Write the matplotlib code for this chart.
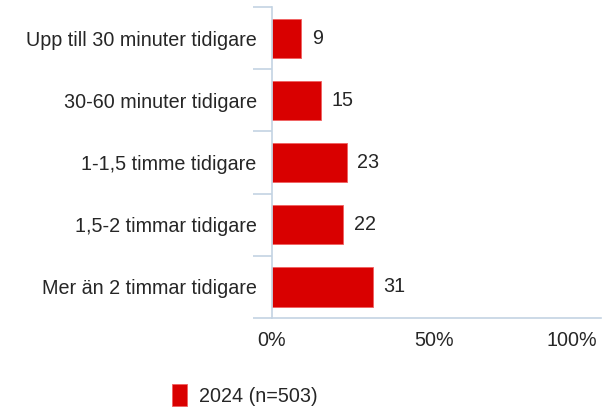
import numpy as np
import matplotlib
matplotlib.use("Agg")
from matplotlib import pyplot as plt
from matplotlib.patches import Patch

plt.rcParams['font.family'] = ['Liberation Sans', 'DejaVu Sans']

categories = [
    "Upp till 30 minuter tidigare",
    "30-60 minuter tidigare",
    "1-1,5 timme tidigare",
    "1,5-2 timmar tidigare",
    "Mer än 2 timmar tidigare",
]
values = [9, 15, 23, 22, 31]
series_label = "2024 (n=503)"
x_ticks = [0, 50, 100]

BAR_COLOR = "#d90000"
AXIS_COLOR = "#c3d3e3"
TEXT_COLOR = "#262626"
FS = 14.2

fig = plt.figure(figsize=(6.15, 4.12), dpi=100)
ax = fig.add_axes([0.4423, 0.228, 0.5350, 0.755])

y = np.arange(len(categories))
ax.barh(y, values, height=0.63, color=BAR_COLOR, edgecolor="#f06060", linewidth=0.6)
for yi, v in zip(y, values):
    ax.annotate(str(v), (v, yi), xytext=(7.5, 0), textcoords="offset points",
                va="center", ha="left", fontsize=FS, color=TEXT_COLOR)

ax.set_ylim(len(categories) - 0.5, -0.5)
ax.set_xlim(0, 101.3)

# category labels on minor ticks, boundary ticks on major
ax.set_yticks(np.arange(len(categories) + 1) - 0.5)
ax.set_yticklabels([])
ax.set_yticks(y, minor=True)
ax.set_yticklabels(categories, minor=True, fontsize=FS, color=TEXT_COLOR)
ax.tick_params(axis="y", which="major", length=14, color=AXIS_COLOR, width=1.2)
ax.tick_params(axis="y", which="minor", length=0, pad=11)

ax.set_xticks(x_ticks)
ax.set_xticklabels([f"{t}%" for t in x_ticks], fontsize=FS, color=TEXT_COLOR)
ax.tick_params(axis="x", length=0, pad=9)
ax.get_xticklabels()[-1].set_ha("right")

for side in ["top", "right"]:
    ax.spines[side].set_visible(False)
for side in ["left", "bottom"]:
    ax.spines[side].set_color(AXIS_COLOR)
    ax.spines[side].set_linewidth(1.2)

handle = Patch(facecolor=BAR_COLOR, edgecolor="#f06060", linewidth=0.6)
fig.legend([handle], [series_label], loc="center", bbox_to_anchor=(0.398, 0.041),
           frameon=False, fontsize=FS, handlelength=0.8, handleheight=1.3,
           handletextpad=0.6, labelcolor=TEXT_COLOR)

fig.savefig("out.png", dpi=100)
